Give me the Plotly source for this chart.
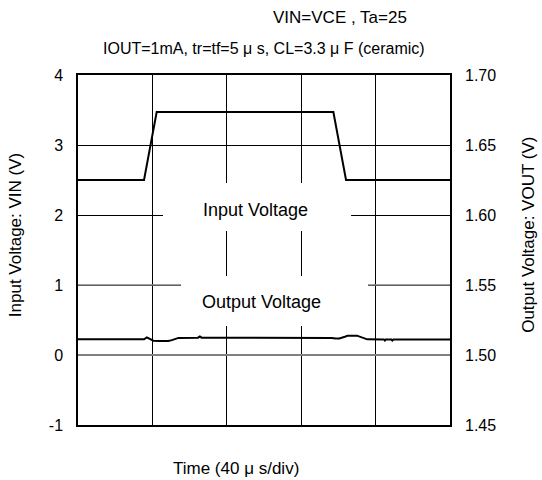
import plotly.graph_objects as go

# ---- data ----
vin_t = [0, 35.5, 42.3, 137.3, 144.1, 200]
vin_v = [2.5, 2.5, 3.47, 3.47, 2.5, 2.5]

vout_t = [0, 35.5, 37, 38.5, 40.5, 44, 48.5, 50.5, 54, 64.5, 65.5, 66.5, 100,
          136.5, 138.5, 140.5, 143.5, 145, 150, 152, 155.5, 164.5, 165, 165.5,
          168.5, 169, 169.5, 200]
vout_v = [1.5112, 1.5112, 1.5126, 1.5118, 1.5102, 1.5100, 1.5100, 1.5106, 1.5122,
          1.5124, 1.5132, 1.5124, 1.5124, 1.5122, 1.5118, 1.5118, 1.5130, 1.5138,
          1.5138, 1.5130, 1.5112, 1.5110, 1.5103, 1.5110, 1.5110, 1.5103, 1.5110,
          1.5110]

x_grid = [0, 40, 80, 120, 160, 200]
left_ticks = [-1, 0, 1, 2, 3, 4]
left_labels = ["-1", "0", "1", "2", "3", "4"]
right_ticks = [1.45, 1.50, 1.55, 1.60, 1.65, 1.70]
right_labels = ["1.45", "1.50", "1.55", "1.60", "1.65", "1.70"]

FONT = "Liberation Sans, Arial, sans-serif"

fig = go.Figure()
fig.add_trace(go.Scatter(x=vin_t, y=vin_v, mode="lines",
                         line=dict(color="black", width=2), yaxis="y",
                         showlegend=False, hoverinfo="skip"))
fig.add_trace(go.Scatter(x=vout_t, y=vout_v, mode="lines",
                         line=dict(color="black", width=2), yaxis="y2",
                         showlegend=False, hoverinfo="skip"))

fig.update_layout(
    width=542, height=480,
    margin=dict(l=78, r=92, t=75, b=55),
    paper_bgcolor="white", plot_bgcolor="white",
    font=dict(family=FONT, size=16, color="black"),
    xaxis=dict(range=[0, 200], tickvals=x_grid, showticklabels=False,
               showgrid=True, gridcolor="black", gridwidth=1,
               showline=True, linecolor="black", linewidth=1.5, mirror=True,
               zeroline=False, ticks=""),
    yaxis=dict(range=[-1, 4], tickvals=left_ticks, ticktext=left_labels,
               showgrid=True, gridcolor="black", gridwidth=1,
               zeroline=True, zerolinecolor="#808080", zerolinewidth=1.5,
               showline=True, linecolor="black", linewidth=1.5, mirror=True,
               ticks="", ticklabelstandoff=10, tickfont=dict(size=16)),
    yaxis2=dict(range=[1.45, 1.70], tickvals=right_ticks, ticktext=right_labels,
                overlaying="y", side="right", showgrid=False, zeroline=False,
                showline=False, ticks="", ticklabelstandoff=14,
                tickfont=dict(size=16)),
)

# gray line at 1 and label background boxes
fig.add_shape(type="line", x0=0, x1=200, y0=1, y1=1, xref="x", yref="y",
              line=dict(color="#808080", width=1.5), layer="between")
fig.add_shape(type="rect", x0=45.7, x1=146.8, y0=1.771, y1=2.457, xref="x", yref="y",
              fillcolor="white", line=dict(width=0), layer="between")
fig.add_shape(type="rect", x0=55.4, x1=155.9, y0=0.414, y1=1.129, xref="x", yref="y",
              fillcolor="white", line=dict(width=0), layer="between")

ann = [
    dict(text="Input Voltage", x=95.2, y=2.07, xref="x", yref="y", font=dict(size=18)),
    dict(text="Output Voltage", x=98.6, y=0.757, xref="x", yref="y", font=dict(size=18)),
    dict(text="VIN=VCE , Ta=25", x=0.704, y=1.163, xref="paper", yref="paper",
         font=dict(size=17)),
    dict(text="IOUT=1mA, tr=tf=5 μ s, CL=3.3 μ F (ceramic)", x=0.5, y=1.077,
         xref="paper", yref="paper", font=dict(size=16)),
    dict(text="Time (40 μ s/div)", x=0.425, y=-0.123, xref="paper", yref="paper",
         font=dict(size=17)),
    dict(text="Input Voltage: VIN (V)", x=-0.166, y=0.543, xref="paper", yref="paper",
         textangle=-90, font=dict(size=17)),
    dict(text="Output Voltage: VOUT (V)", x=1.212, y=0.543, xref="paper", yref="paper",
         textangle=-90, font=dict(size=17)),
]
for a in ann:
    fig.add_annotation(showarrow=False, xanchor="center", yanchor="middle", **a)

fig.write_html("out.html",
               config={"displayModeBar": False},
               post_script="document.body.style.margin='0';"
                           "document.body.style.overflow='hidden';")
